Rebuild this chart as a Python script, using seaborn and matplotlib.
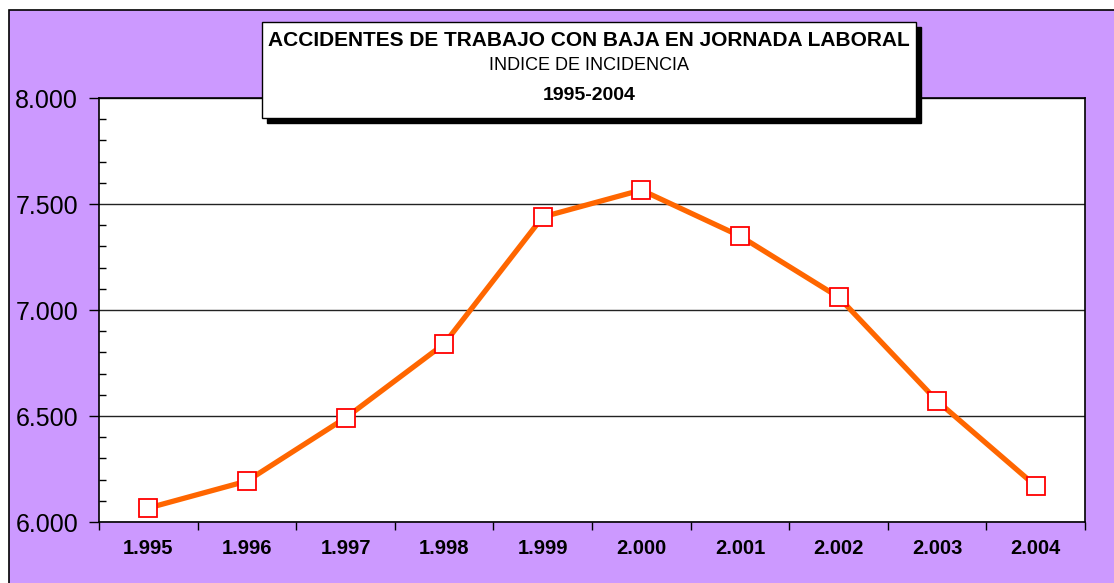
import matplotlib
matplotlib.use("Agg")
import matplotlib.pyplot as plt
import matplotlib.patches as patches
import matplotlib.ticker as mticker
import seaborn as sns
import pandas as pd

years = ["1.995", "1.996", "1.997", "1.998", "1.999", "2.000", "2.001", "2.002", "2.003", "2.004"]
values = [6066, 6193, 6491, 6840, 7439, 7566, 7349, 7061, 6571, 6170]
title_lines = ["ACCIDENTES DE TRABAJO CON BAJA EN JORNADA LABORAL", "INDICE DE INCIDENCIA", "1995-2004"]

sns.set_style("white")
plt.rcParams['font.family'] = ['Liberation Sans', 'DejaVu Sans']
plt.rcParams['text.color'] = 'black'
plt.rcParams['xtick.color'] = 'black'
plt.rcParams['ytick.color'] = 'black'

W, H = 1114, 583
fig = plt.figure(figsize=(W / 100, H / 100), dpi=100)
fig.patch.set_facecolor("white")

# purple chart background with border (runs off right/bottom)
bg = patches.Rectangle((9 / W, -0.1), 1.2, 1 - 10 / H + 0.1, transform=fig.transFigure,
                       facecolor="#CC99FF", edgecolor="black", linewidth=1.2, zorder=-10)
fig.patches.append(bg)

left, right, top, bottom = 99, 1085, 98, 522
ax = fig.add_axes([left / W, 1 - bottom / H, (right - left) / W, (bottom - top) / H])
ax.set_facecolor("white")

df = pd.DataFrame({"pos": range(len(years)), "val": values})
sns.lineplot(data=df, x="pos", y="val", ax=ax, color="#FF6600", linewidth=3.8,
             marker="s", markersize=12.5, markerfacecolor="white",
             markeredgecolor="#FF0000", markeredgewidth=1.3, zorder=5)

ax.set_xlim(-0.5, len(years) - 0.5)
ax.set_ylim(6000, 8000)
ax.set_xlabel("")
ax.set_ylabel("")

ax.yaxis.set_major_locator(mticker.MultipleLocator(500))
ax.yaxis.set_minor_locator(mticker.MultipleLocator(100))
ax.yaxis.set_major_formatter(mticker.FuncFormatter(lambda v, p: f"{int(v):,}".replace(",", ".")))
ax.grid(axis="y", which="major", color="#222222", linewidth=1.0)
ax.set_axisbelow(True)

ax.set_xticks(range(len(years)))
ax.set_xticklabels(years, fontweight="bold", fontsize=14.5)
ax.xaxis.set_minor_locator(mticker.FixedLocator([i - 0.5 for i in range(len(years) + 1)]))
ax.tick_params(axis="x", which="major", length=0, pad=12)
ax.tick_params(axis="x", which="minor", length=6, direction="out", width=1, color="black", bottom=True)
ax.tick_params(axis="y", which="major", length=7, direction="out", width=1, color="black",
               labelsize=18, pad=8, left=True)
ax.tick_params(axis="y", which="minor", length=5, direction="in", width=1, color="black", left=True)

for s in ax.spines.values():
    s.set_color("black")
    s.set_linewidth(1.2)

# title box with shadow
bx0, bx1, by0, by1 = 262, 916, 22, 118
sh = 5
shadow = patches.Rectangle(((bx0 + sh) / W, 1 - (by1 + sh) / H), (bx1 - bx0) / W, (by1 - by0) / H,
                           transform=fig.transFigure, facecolor="black", edgecolor="black", zorder=8)
box = patches.Rectangle((bx0 / W, 1 - by1 / H), (bx1 - bx0) / W, (by1 - by0) / H,
                        transform=fig.transFigure, facecolor="white", edgecolor="black",
                        linewidth=1.0, zorder=9)
fig.patches.extend([shadow, box])
cx = (bx0 + bx1) / 2 / W
fig.text(cx, 1 - 40 / H, title_lines[0], ha="center", va="center", fontsize=15, fontweight="bold", zorder=10)
fig.text(cx, 1 - 66 / H, title_lines[1], ha="center", va="center", fontsize=13, zorder=10)
fig.text(cx, 1 - 96 / H, title_lines[2], ha="center", va="center", fontsize=14, fontweight="bold", zorder=10)

fig.savefig("out.png", dpi=100)
